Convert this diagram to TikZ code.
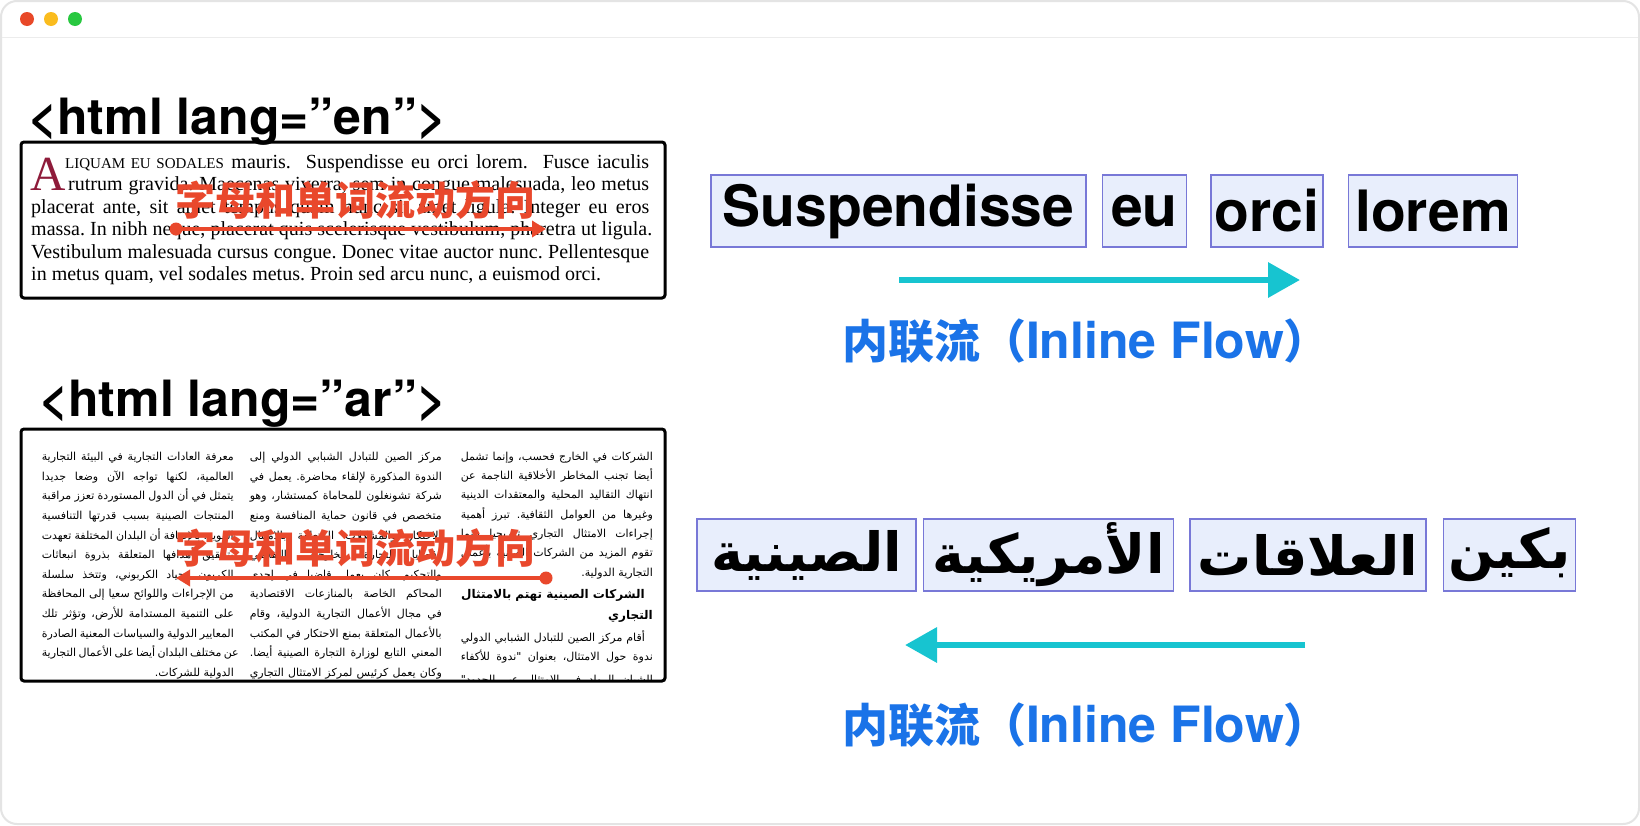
\documentclass[tikz,border=0pt]{standalone}
\usepackage{fontspec}
\setmainfont{Liberation Serif}
\newfontfamily\tagfont{TeX Gyre Heros}
\newfontfamily\cjkfont{Noto Sans CJK SC}
\newfontfamily\arabicfont[Script=Arabic]{DejaVu Sans}
\TeXXeTstate=1
\frenchspacing
\usetikzlibrary{arrows.meta,positioning}

\definecolor{flowred}{RGB}{233,72,44}
\definecolor{flowcyan}{RGB}{23,196,208}
\definecolor{flowblue}{RGB}{26,115,232}
\definecolor{wordfill}{RGB}{232,238,252}
\definecolor{worddraw}{RGB}{120,120,215}
\definecolor{capred}{RGB}{142,27,58}
\definecolor{winframe}{RGB}{228,228,228}
\definecolor{dotred}{RGB}{232,72,40}
\definecolor{dotyellow}{RGB}{250,188,30}
\definecolor{dotgreen}{RGB}{40,200,64}

\newcommand{\arj}[2][192pt]{\makebox[#1][s]{\beginR #2\endR}}
\newcommand{\arr}[1]{\beginR #1\endR}

\begin{document}
\begin{tikzpicture}[x=1pt, y=-1pt,
  wordbox/.style={draw=worddraw, fill=wordfill, line width=1.5pt, minimum height=72pt, inner sep=0pt},
  enword/.style={wordbox, font=\tagfont\bfseries\fontsize{57}{57}\selectfont},
  arword/.style={wordbox, font=\arabicfont\bfseries\fontsize{54}{54}\selectfont},
  tagtext/.style={font=\tagfont\bfseries\fontsize{50}{50}\selectfont, inner sep=0pt, anchor=base west},
  flowarr/.style={draw=flowcyan, line width=6.5pt, -{Triangle[length=32pt,width=34pt]}},
  flowlabel/.style={text=flowblue, font=\cjkfont\bfseries\fontsize{46}{46}\selectfont, inner sep=0pt},
  dirtext/.style={text=flowred, font=\cjkfont\bfseries\fontsize{40}{40}\selectfont, inner sep=0pt},
  dirarr/.style={draw=flowred, line width=3.5pt, -{Triangle[length=14pt,width=16pt]}},
  dirdot/.style={circle, fill=flowred, inner sep=0pt, minimum size=13pt},
  docbox/.style={draw=black, line width=3pt, rounded corners=3pt},
  enline/.style={font=\fontsize{20}{22}\selectfont, inner sep=0pt, anchor=base west},
  arline/.style={font=\arabicfont\fontsize{11}{13}\selectfont, inner sep=0pt, anchor=base east},
  arhead/.style={font=\arabicfont\bfseries\fontsize{12}{14}\selectfont, inner sep=0pt, anchor=base east}
]
\useasboundingbox (0,0) rectangle (1640,825);
\fill[white] (0,0) rectangle (1640,825);
\draw[winframe, line width=2pt, rounded corners=16pt] (1,1) rectangle (1639,824);
\draw[winframe!70, line width=1pt] (2,37) -- (1638,37);
\fill[dotred] (27,19) circle (7);
\fill[dotyellow] (51,19) circle (7);
\fill[dotgreen] (75,19) circle (7);

% html lang="en"
\node[tagtext] (tagEn) at (28,134) {<html lang=”en”>};
\coordinate (enNW) at (21,142);
\coordinate (enSE) at (665,298);
\begin{scope}
\clip (enNW) rectangle (enSE);
\node[anchor=base west, inner sep=0pt, text=capred, font=\fontsize{49}{49}\selectfont] (dropA) at (30,190.5) {A};
\node[enline] (en1) at (65,168) {\makebox[584pt][s]{{\fontsize{15}{15}\selectfont LIQUAM EU SODALES} mauris.\ \ Suspendisse eu orci lorem.\ \ Fusce iaculis}};
\node[enline] (en2) at (68,190.5) {\makebox[581pt][s]{rutrum gravida. Maecenas viverra, sem in congue malesuada, leo metus}};
\node[enline] (en3) at (31,213) {\makebox[618pt][s]{placerat ante, sit amet tempus quam nunc sit amet ligula. Integer eu eros}};
\node[enline] (en4) at (31,235.5) {\makebox[621pt][s]{massa. In nibh neque, placerat quis scelerisque vestibulum, pharetra ut ligula.}};
\node[enline] (en5) at (31,258) {\makebox[618pt][s]{Vestibulum malesuada cursus congue. Donec vitae auctor nunc. Pellentesque}};
\node[enline] (en6) at (31,280.5) {in metus quam, vel sodales metus. Proin sed arcu nunc, a euismod orci.};
\end{scope}
\draw[docbox] (enNW) rectangle (enSE);
\node[dirtext] (enDir) at (355.5,200) {字母和单词流动方向};
\node[dirdot] (enDot) at (176,229) {};
\coordinate (enDirTip) at (546,229);
\draw[dirarr] (enDot.center) -- (enDirTip);

% html lang="ar"
\node[tagtext] (tagAr) at (39,416) {<html lang=”ar”>};
\coordinate (arNW) at (21,429);
\coordinate (arSE) at (665,681);
\begin{scope}
\clip (arNW) rectangle (arSE);
% right column
\foreach \t [count=\i] in {الشركات في الخارج فحسب، وإنما تشمل, أيضا تجنب المخاطر الأخلاقية الناجمة عن, انتهاك التقاليد المحلية والمعتقدات الدينية, وغيرها من العوامل الثقافية. تبرز أهمية, إجراءات الامتثال التجاري تدريجيا بينما, تقوم المزيد من الشركات الصينية بأعمال}
  \node[arline] (arR\i) at (653,441+19.3*\i) {\arj{\t}};
\node[arline] (arR7) at (653,576) {\arr{التجارية الدولية.}};
\node[arhead] (arR8) at (645,598) {\arr{الشركات الصينية تهتم بالامتثال}};
\node[arhead] (arR9) at (653,619) {\arr{التجاري}};
\node[arline] (arR10) at (645,641) {\arj[184pt]{أقام مركز الصين للتبادل الشبابي الدولي}};
\node[arline] (arR11) at (653,660) {\arj{ندوة حول الامتثال، بعنوان "ندوة للأكفاء}};
\node[arline] (arR12) at (653,683) {\arj{الشبان الرواد في الامتثال عبر الحدود"}};
% middle column
\foreach \t [count=\i] in {مركز الصين للتبادل الشبابي الدولي إلى, الندوة المذكورة لإلقاء محاضرة. يعمل في, شركة تشونغلون للمحاماة كمستشار، وهو, متخصص في قانون حماية المنافسة ومنع, الاحتكار والمشكلات المتعلقة بالامتثال, وقضايا التجارة الخارجية والتقاضي, والتحكيم. كان يعمل قاضيا في إحدى, المحاكم الخاصة بالمنازعات الاقتصادية, في مجال الأعمال التجارية الدولية، وقام, بالأعمال المتعلقة بمنع الاحتكار في المكتب, المعني التابع لوزارة التجارة الصينية أيضا., وكان يعمل كرئيس لمركز الامتثال التجاري}
  \node[arline] (arM\i) at (442,441+19.6*\i) {\arj{\t}};
% left column
\foreach \t [count=\i] in {معرفة العادات التجارية في البيئة التجارية, العالمية، لكنها تواجه الآن وضعا جديدا, يتمثل في أن الدول المستوردة تعزز مراقبة, المنتجات الصينية بسبب قدرتها التنافسية, القوية. بالإضافة أن البلدان المختلفة تعهدت, بتحقيق أهدافها المتعلقة بذروة انبعاثات, الكربون وحياد الكربوني، وتتخذ سلسلة, من الإجراءات واللوائح سعيا إلى المحافظة, على التنمية المستدامة للأرض، وتؤثر تلك, المعايير الدولية والسياسات المعنية الصادرة, عن مختلف البلدان أيضا على الأعمال التجارية}
  \node[arline] (arL\i) at (234,441+19.6*\i) {\arj{\t}};
\node[arline] (arL12) at (234,676) {\arr{الدولية للشركات.}};
\end{scope}
\draw[docbox] (arNW) rectangle (arSE);
\node[dirtext] (arDir) at (355.5,548) {字母和单词流动方向};
\node[dirdot] (arDot) at (546,578) {};
\coordinate (arDirTip) at (176,578);
\draw[dirarr] (arDot.center) -- (arDirTip);

% inline flow, left to right
\node[enword, minimum width=375pt] (wSusp) at (898.5,211) {Suspendisse};
\node[enword, minimum width=84pt, right=15pt of wSusp] (wEu) {eu};
\node[enword, minimum width=112pt, right=23pt of wEu] (wOrci) {orci};
\node[enword, minimum width=169pt, right=24pt of wOrci] (wLorem) {lorem};
\coordinate (enTail) at (899,280);
\coordinate (enTip) at (1300,280);
\draw[flowarr] (enTail) -- (enTip);
\node[flowlabel] (enFlow) at (1086,341) {内联流（{\tagfont\fontsize{50}{50}\selectfont Inline Flow}）};

% inline flow, right to left
\node[arword, minimum width=219pt] (wSin) at (806.5,555) {\arr{الصينية}};
\node[arword, minimum width=250pt, right=6pt of wSin] (wAmr) {\arr{الأمريكية}};
\node[arword, minimum width=236pt, right=15pt of wAmr] (wAla) {\arr{العلاقات}};
\node[arword, minimum width=132pt, right=16pt of wAla] (wBkn) {\arr{بكين}};
\coordinate (arTail) at (1305,645);
\coordinate (arTip) at (905,645);
\draw[flowarr] (arTail) -- (arTip);
\node[flowlabel] (arFlow) at (1086,725) {内联流（{\tagfont\fontsize{50}{50}\selectfont Inline Flow}）};
\end{tikzpicture}
\end{document}
